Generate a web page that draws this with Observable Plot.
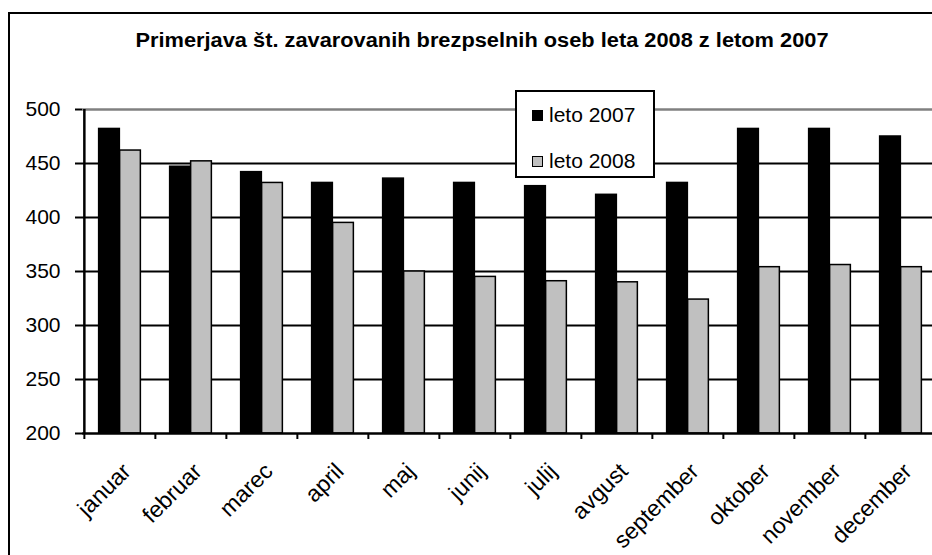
<!DOCTYPE html>
<html>
<head>
<meta charset="utf-8">
<script src="https://cdn.jsdelivr.net/npm/d3@7"></script>
<script src="https://cdn.jsdelivr.net/npm/@observablehq/plot@0.6"></script>
<style>
  html, body { margin: 0; padding: 0; background: #fff; }
  #wrap { position: relative; width: 932px; height: 555px; overflow: hidden; background: #fff; font-family: "Liberation Sans", Arial, sans-serif; }
  #chart { position: absolute; left: 0; top: 0; }
  #frame { position: absolute; left: 8px; top: 12px; width: 1000px; height: 1000px; border: 2px solid #000; box-sizing: border-box; pointer-events: none; }
  #title { position: absolute; left: 0; top: 30px; width: 964px; text-align: center; font-weight: bold; font-size: 20px; line-height: 20px; color: #000; white-space: nowrap; transform: scaleX(1.09); transform-origin: 482px 0; }
  #legend { position: absolute; left: 515px; top: 90px; width: 140px; height: 88px; border: 2px solid #000; box-sizing: border-box; background: #fff; }
  .li { position: absolute; left: 15px; font-size: 21px; line-height: 21px; color: #000; white-space: nowrap; }
  .sw { display: inline-block; width: 11px; height: 11px; box-sizing: border-box; border: 1.5px solid #000; margin-right: 6px; vertical-align: 1px; }
</style>
</head>
<body>
<div id="wrap">
  <div id="chart"></div>
  <div id="title"></div>
  <div id="legend"></div>
  <div id="frame"></div>
</div>
<script>
const titleText = "Primerjava št. zavarovanih brezpselnih oseb leta 2008 z letom 2007";
const months = ["januar", "februar", "marec", "april", "maj", "junij", "julij", "avgust", "september", "oktober", "november", "december"];
const leto2007 = [482, 447, 442, 432, 436, 432, 429, 421, 432, 482, 482, 475];
const leto2008 = [462, 452, 432, 395, 350, 345, 341, 340, 324, 354, 356, 354];
const seriesNames = ["leto 2007", "leto 2008"];
const seriesColors = ["#000000", "#c0c0c0"];
const yTicks = [200, 250, 300, 350, 400, 450, 500];

const data = months.flatMap((m, i) => [
  {month: m, series: seriesNames[0], value: leto2007[i]},
  {month: m, series: seriesNames[1], value: leto2008[i]}
]);

const W = 950, H = 555;
const mL = 82, mR = 12.7, mT = 109, mB = 122;
const bw = (W - mL - mR) / months.length;
const barW = 21;
const outer = bw / 2 - barW;

const s07 = data.filter(d => d.series === seriesNames[0]);
const s08 = data.filter(d => d.series === seriesNames[1]);

const chart = Plot.plot({
  width: W,
  height: H,
  marginLeft: mL,
  marginRight: mR,
  marginTop: mT,
  marginBottom: mB,
  style: {background: "transparent", maxWidth: "none", overflow: "visible", fontFamily: "Liberation Sans, Arial, sans-serif"},
  x: {type: "band", domain: months, padding: 0, label: null},
  y: {domain: [200, 500], label: null},
  color: {domain: seriesNames, range: seriesColors},
  marks: [
    Plot.gridY(yTicks.filter(t => t > 200 && t < 500), {stroke: "#000", strokeOpacity: 1, strokeWidth: 2}),
    Plot.ruleY([500], {stroke: "#808080", strokeWidth: 2.5}),
    Plot.barY(s07, {x: "month", y1: 200, y2: "value", fill: "series", stroke: "#000", strokeWidth: 1.5, insetLeft: outer, insetRight: bw - outer - barW}),
    Plot.barY(s08, {x: "month", y1: 200, y2: "value", fill: "series", stroke: "#000", strokeWidth: 1.5, insetLeft: bw - outer - barW, insetRight: outer}),
    Plot.ruleY([200], {stroke: "#000", strokeWidth: 2.5}),
    Plot.ruleX([months[0]], {dx: -bw / 2, y1: 200, y2: 500, stroke: "#000", strokeWidth: 2.5}),
    Plot.axisY({ticks: yTicks, tickSize: 7, tickPadding: 15, fontSize: 21, strokeWidth: 2, tickFormat: d => d, label: null}),
    Plot.axisX({ticks: months, tickSize: 6, dx: -bw / 2, strokeWidth: 2, tickFormat: () => "", label: null}),
    Plot.axisX({ticks: months, tickSize: 0, tickPadding: 0, tickRotate: -45, fontSize: 23, dx: 7, dy: 34, label: null})
  ]
});
document.getElementById("chart").appendChild(chart);
document.getElementById("title").textContent = titleText;

const legend = document.getElementById("legend");
seriesNames.forEach((name, i) => {
  const row = document.createElement("div");
  row.className = "li";
  row.style.top = (i === 0 ? 12 : 58) + "px";
  const sw = document.createElement("span");
  sw.className = "sw";
  sw.style.background = seriesColors[i];
  row.appendChild(sw);
  row.appendChild(document.createTextNode(name));
  legend.appendChild(row);
});
</script>
</body>
</html>
